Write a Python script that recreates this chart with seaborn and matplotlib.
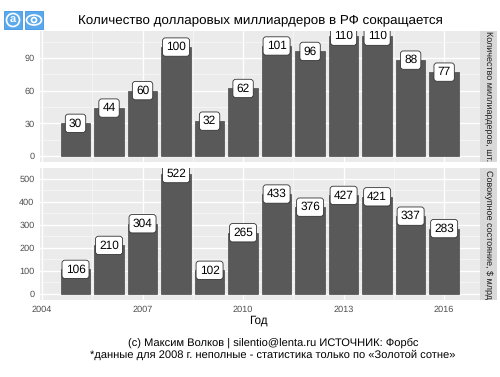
import matplotlib
matplotlib.use('Agg')
import matplotlib.pyplot as plt
import matplotlib.patches as mpatches
import pandas as pd
import seaborn as sns

years = [2005, 2006, 2007, 2008, 2009, 2010, 2011, 2012, 2013, 2014, 2015, 2016]
billionaires = [30, 44, 60, 100, 32, 62, 101, 96, 110, 110, 88, 77]
wealth = [106, 210, 304, 522, 102, 265, 433, 376, 427, 421, 337, 283]

x_ticks = [2004, 2007, 2010, 2013, 2016]
x_minor = [2005.5, 2008.5, 2011.5, 2014.5]
top_ticks = [0, 30, 60, 90]
top_minor = [15, 45, 75, 105]
bottom_ticks = [0, 100, 200, 300, 400, 500]
bottom_minor = [50, 150, 250, 350, 450]

title = "Количество долларовых миллиардеров в РФ сокращается"
top_strip = "Количество миллиардеров, шт."
bottom_strip = "Совокупное состояние, $ млрд"
x_label = "Год"
credit = "(c) Максим Волков | silentio@lenta.ru ИСТОЧНИК: Форбс"
note = "*данные для 2008 г. неполные - статистика только по «Золотой сотне»"

W, H = 500, 377

sns.set_theme(style="darkgrid")
plt.rcParams['font.family'] = ['Liberation Sans', 'DejaVu Sans']
plt.rcParams['text.hinting'] = 'no_hinting'

fig = plt.figure(figsize=(W / 100, H / 100), dpi=100)


def px_axes(left, top, right, bottom):
    return fig.add_axes([left / W, 1 - bottom / H, (right - left) / W, (bottom - top) / H])


def draw_panel(ax, values, ticks, minor, ylim, strip_text, strip_box):
    df = pd.DataFrame({"year": years, "value": values})
    sns.barplot(data=df, x="year", y="value", native_scale=True, width=0.88,
                color="#595959", saturation=1, edgecolor="#4A4A4A", linewidth=0.5,
                ax=ax, zorder=2)
    ax.set_facecolor("#EBEBEB")
    for s in ax.spines.values():
        s.set_visible(False)
    ax.set_yticks(ticks)
    ax.set_yticks(minor, minor=True)
    ax.set_xticks(x_ticks)
    ax.set_xticks(x_minor, minor=True)
    ax.set_xlim(2003.94, 2017.07)
    ax.set_ylim(*ylim)
    ax.grid(which="major", color="white", lw=1.0, zorder=0)
    ax.grid(which="minor", color="#F6F6F6", lw=0.6, zorder=0)
    ax.set_axisbelow(True)
    ax.set_xlabel("")
    ax.set_ylabel("")
    ax.tick_params(axis="both", which="major", length=2.5, width=0.7, color="#333333",
                   labelsize=6.6, labelcolor="#4D4D4D", pad=1.5)
    ax.tick_params(axis="both", which="minor", length=0)

    for y, v in zip(years, values):
        ax.text(y, v, str(v), ha="center", va="center", fontsize=8.6, color="black",
                clip_on=True, zorder=5,
                bbox=dict(boxstyle="round,pad=0.3,rounding_size=0.25", fc="white",
                          ec="#333333", lw=0.6))

    strip = px_axes(*strip_box)
    strip.set_facecolor("#D9D9D9")
    strip.set_xticks([])
    strip.set_yticks([])
    for s in strip.spines.values():
        s.set_visible(False)
    strip.text(0.5, 0.5, strip_text, rotation=-90, ha="center", va="center",
               fontsize=6.5, color="#1A1A1A", transform=strip.transAxes)


ax_top = px_axes(40, 30.5, 480, 162)
draw_panel(ax_top, billionaires, top_ticks, top_minor, (-5.5, 115.2), top_strip, (480, 30.5, 497, 162))
ax_top.tick_params(axis="x", which="both", bottom=False, labelbottom=False)

ax_bottom = px_axes(40, 168, 480, 300)
draw_panel(ax_bottom, wealth, bottom_ticks, bottom_minor, (-27, 546), bottom_strip, (480, 168, 497, 300))

fig.text(260 / W, 1 - 20 / H, title, ha="center", va="center", fontsize=9.65, color="black")
fig.text(258 / W, 1 - 320 / H, x_label, ha="center", va="center", fontsize=8.4, color="black")
fig.text(273.5 / W, 1 - 343 / H, credit, ha="center", va="center", fontsize=8.0, color="black")
fig.text(273 / W, 1 - 355 / H, note, ha="center", va="center", fontsize=8.0, color="black")

# two share icons in the corner
for left in (4, 25):
    fig.add_artist(mpatches.Rectangle((left / W, 1 - 29 / H), 18 / W, 18 / H, transform=fig.transFigure,
                                      fc="#5AA9EC", ec="#3F93E0", lw=0.6))
fig.add_artist(mpatches.Ellipse((13 / W, 1 - 20 / H), 13 / W, 13 / H, transform=fig.transFigure,
                                fc="none", ec="white", lw=1.2))
fig.text(13 / W, 1 - 20 / H, "a", ha="center", va="center", fontsize=8, color="white", fontweight="bold")
fig.add_artist(mpatches.Ellipse((34 / W, 1 - 20 / H), 15 / W, 10 / H, transform=fig.transFigure,
                                fc="none", ec="white", lw=1.2))
fig.add_artist(mpatches.Ellipse((34 / W, 1 - 20 / H), 5 / W, 5 / H, transform=fig.transFigure,
                                fc="none", ec="white", lw=1.2))

fig.savefig("out.png", dpi=100)
plt.close(fig)
